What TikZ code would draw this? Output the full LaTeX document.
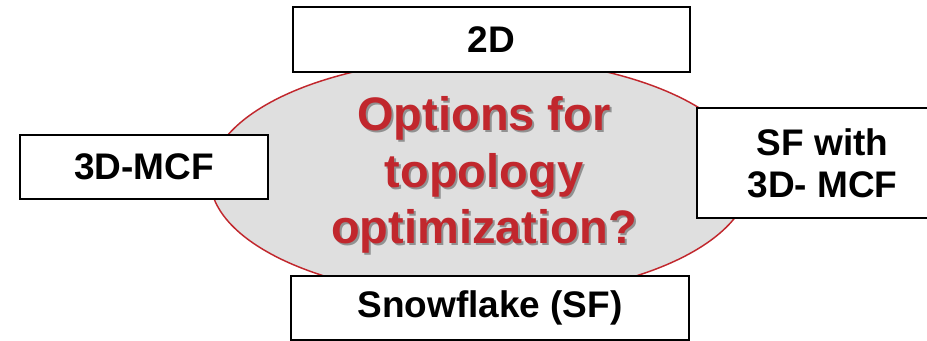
\documentclass[tikz,border=0pt]{standalone}
\usepackage{fontspec}
\setmainfont{Liberation Sans}
\usetikzlibrary{shapes.geometric}
\definecolor{optred}{HTML}{C1272D}
\definecolor{blobgray}{HTML}{DFDFDF}
\begin{document}
\begin{tikzpicture}[x=0.75pt,y=-0.75pt,
  optbox/.style={draw=black, line width=1.5pt, fill=white, inner sep=0pt,
    align=center, font=\fontsize{27.75}{31.5}\selectfont\bfseries},
  blob/.style={ellipse, draw=optred, line width=1.1pt, fill=blobgray,
    inner sep=0pt, minimum width=405pt, minimum height=180pt},
  question/.style={align=center, inner sep=0pt,
    font=\fontsize{35.25}{42.4}\selectfont\bfseries},
]
\useasboundingbox (0,0) rectangle (927,341);
\clip (0,0) rectangle (927,341);

% central question
\node[blob] (blob) at (480,178) {};
\node[question, text=black, opacity=0.35] (qshadow) at (486,177)
  {Options for\\topology\\optimization?};
\node[question, text=optred] (question) at (484,175)
  {Options for\\topology\\optimization?};

% the four options around it
\node[optbox, minimum width=297.75pt, minimum height=48.75pt] (twod) at (491.5,39.5) {2D};
\node[optbox, minimum width=186pt, minimum height=48pt] (mcf) at (144,167) {3D-MCF};
\node[optbox, minimum width=188.25pt, minimum height=82.5pt] (sfmcf) at (822.5,163) {SF with\\3D- MCF};
\node[optbox, minimum width=298.5pt, minimum height=48pt] (sf) at (490,308) {Snowflake (SF)};
\end{tikzpicture}
\end{document}
